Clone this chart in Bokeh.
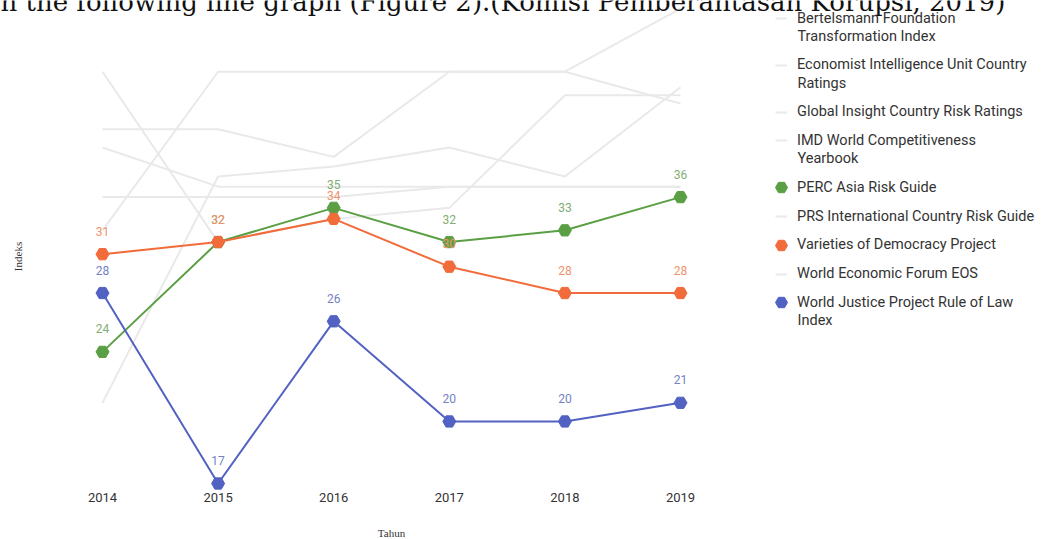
import math
from bokeh.plotting import figure
from bokeh.models import Range1d, Legend, LegendItem, Label
from bokeh.embed import file_html
from bokeh.resources import INLINE
from bokeh.core.properties import value

# ---------------- data ----------------
years = [2014, 2015, 2016, 2017, 2018, 2019]
year_labels = ["2014", "2015", "2016", "2017", "2018", "2019"]

bertelsmann = [33, 50, 50, 50, 50, 59]
economist = [43, 43, 40, 50, 50, 46]
global_insight = [50, 32, 34, 35, 47, 47]
imd = [21, 38, 39, 41, 38, 48]
perc = [24, 32, 35, 32, 33, 36]
prs = [41, 37, 37, 37, 37, 37]
vdem = [31, 32, 34, 30, 28, 28]
wef = [36, 36, 36, 37, 37, 37]
wjp = [28, 17, 26, 20, 20, 21]

axis_floor = 17  # value at the baseline of the value axis

names = [
    ["Bertelsmann Foundation", "Transformation Index"],
    ["Economist Intelligence Unit Country", "Ratings"],
    ["Global Insight Country Risk Ratings"],
    ["IMD World Competitiveness", "Yearbook"],
    ["PERC Asia Risk Guide"],
    ["PRS International Country Risk Guide"],
    ["Varieties of Democracy Project"],
    ["World Economic Forum EOS"],
    ["World Justice Project Rule of Law", "Index"],
]
series = [bertelsmann, economist, global_insight, imd, perc, prs, vdem, wef, wjp]
active = {4: ("#5a9f44", "#82ad74"), 6: ("#f26b3a", "#f0926e"), 8: ("#5262c2", "#7481c4")}

heading = "n the following line graph (Figure 2).(Komisi Pemberantasan Korupsi, 2019)"
x_title = "Tahun"
y_title = "Indeks"

# ---------------- figure (frame covers the whole canvas) ----------------
W, H = 1046, 539
PX_PER_YEAR = 115.6
PX_PER_LN = 381.7
FIRST_X = 102      # pixel column of the first year
FLOOR_Y = 483      # pixel row of the axis floor value
x_start = 2014 - FIRST_X / PX_PER_YEAR
x_end = x_start + W / PX_PER_YEAR
y_start = axis_floor * math.exp(-(H - FLOOR_Y) / PX_PER_LN)
y_end = y_start * math.exp(H / PX_PER_LN)

p = figure(width=W, height=H, output_backend="svg", toolbar_location=None,
           x_axis_location=None, y_axis_location=None, y_axis_type="log",
           x_range=Range1d(x_start, x_end), y_range=Range1d(y_start, y_end),
           min_border=0)
p.outline_line_color = None
p.grid.visible = False
p.background_fill_color = "white"

grey = "#e9e9e9"
legend_glyphs = {}
for i, vals in enumerate(series):
    if i in active:
        continue
    legend_glyphs[i] = p.line(years, vals, line_color=grey, line_width=2)

for i, (col, lab_col) in active.items():
    vals = series[i]
    p.line(years, vals, line_color=col, line_width=2)
    s = p.scatter(years, vals, marker="hex", size=13, fill_color=col, line_color=col)
    p.text(years, vals, text=[str(v) for v in vals], text_align="center",
           text_baseline="middle", y_offset=-23, text_font=value("Roboto"),
           text_font_size="12px", text_color=lab_col)
    legend_glyphs[i] = s

# year labels under the floor
p.text(years, [axis_floor] * len(years), text=year_labels, text_align="center",
       text_baseline="middle", y_offset=14, text_font=value("Roboto"),
       text_font_size="13px", text_color="#333333")


def sy(page_y):
    return H - page_y


# axis titles
p.add_layout(Label(x=391, y=sy(532), x_units="screen", y_units="screen", text=x_title,
                   text_font="Liberation Serif", text_font_size="11px",
                   text_color="#333333", text_align="center", text_baseline="middle"))
p.add_layout(Label(x=17, y=sy(256), x_units="screen", y_units="screen", text=y_title,
                   angle=math.pi / 2, text_font="Liberation Serif", text_font_size="11px",
                   text_color="#333333", text_align="center", text_baseline="middle"))

# ---------------- legend (one block per entry, top-aligned glyphs) ----------------
LINE_H = 18
GAP = 10.8
GLYPH_H = 30
text_left = 797
center = 18.0  # row of the first line
for i, lines in enumerate(names):
    if i in active:
        gw = 30          # marker size = 0.4 * glyph box
    else:
        gw = 12          # short grey dash
    glyph_left = 781 - gw / 2
    leg = Legend(items=[LegendItem(label=lines[0], renderers=[legend_glyphs[i]])],
                 location=(glyph_left, sy(center + GLYPH_H / 2)))
    leg.label_text_font = "Roboto"
    leg.label_text_font_size = "14.5px"
    leg.label_text_color = "#333333"
    leg.label_text_baseline = "middle"
    leg.glyph_width = gw
    leg.glyph_height = GLYPH_H
    leg.label_standoff = int(round(text_left - glyph_left - gw))
    leg.padding = 0
    leg.margin = 0
    leg.spacing = 0
    leg.border_line_color = None
    leg.background_fill_alpha = 0
    p.add_layout(leg)
    for k, extra in enumerate(lines[1:], start=1):
        p.add_layout(Label(x=text_left, y=sy(center + k * LINE_H), x_units="screen",
                           y_units="screen", text=extra, text_font="Roboto",
                           text_font_size="14.5px", text_color="#333333",
                           text_baseline="middle"))
    center += LINE_H * len(lines) + GAP

# heading line of the surrounding document, cut by the top edge
p.add_layout(Label(x=0, y=sy(1), x_units="screen", y_units="screen", text=heading,
                   text_font="DejaVu Serif", text_font_size="26px",
                   text_color="#111111", text_baseline="alphabetic"))

open("out.html", "w").write(file_html(p, INLINE))
